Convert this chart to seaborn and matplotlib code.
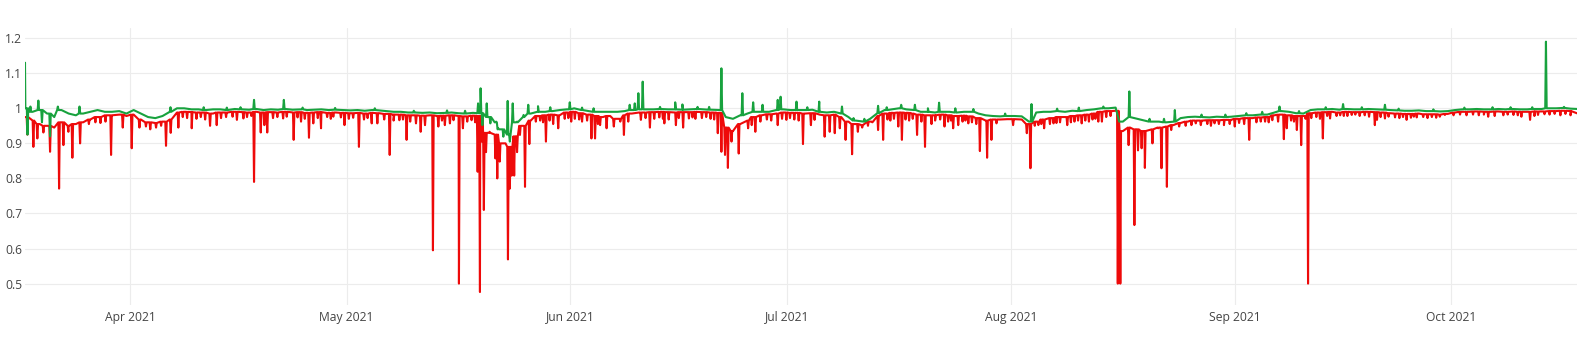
import numpy as np
import pandas as pd
import seaborn as sns
import matplotlib.pyplot as plt
import matplotlib.dates as mdates

start = pd.Timestamp('2021-03-17')

# daily values (noon), 2021-03-17 .. 2021-10-18
high_daily = [
    1.000, 0.990, 0.995, 0.985, 0.975, 0.995, 0.985, 0.980, 0.985, 0.990,
    0.995, 0.990, 0.990, 0.992, 0.985, 0.995, 0.985, 0.975, 0.972, 0.978,
    0.990, 1.000, 1.000, 0.997, 0.997, 0.995, 0.997, 0.997, 0.995, 0.998,
    0.997, 0.996, 0.998, 0.995, 0.997, 0.996, 0.998, 0.996, 0.997, 0.995,
    0.996, 0.997, 0.995, 0.996, 0.995, 0.994, 0.995, 0.993, 0.995, 0.994,
    0.992, 0.990, 0.990, 0.988, 0.988, 0.987, 0.988, 0.986, 0.987, 0.988,
    0.986, 0.985, 0.987, 0.986, 0.975, 0.960, 0.940, 0.925, 0.960, 0.975,
    0.985, 0.990, 0.990, 0.992, 0.995, 0.997, 1.000, 0.995, 0.992, 0.990,
    0.990, 0.990, 0.990, 0.992, 0.995, 0.997, 0.997, 0.997, 0.998, 0.997,
    0.997, 0.996, 0.997, 0.998, 0.997, 0.996, 0.995, 0.975, 0.970, 0.980,
    0.985, 0.990, 0.990, 0.990, 0.995, 0.997, 0.995, 0.995, 0.995, 0.996,
    0.990, 0.988, 0.990, 0.985, 0.975, 0.965, 0.962, 0.970, 0.986, 0.995,
    0.997, 1.000, 0.997, 0.995, 0.990, 0.990, 0.988, 0.990, 0.990, 0.988,
    0.990, 0.990, 0.985, 0.980, 0.978, 0.977, 0.978, 0.978, 0.977, 0.962,
    0.988, 0.990, 0.990, 0.992, 0.990, 0.993, 0.992, 0.995, 0.997, 1.000,
    1.000, 1.002, 0.962, 0.975, 0.970, 0.965, 0.962, 0.962, 0.960, 0.962,
    0.972, 0.975, 0.976, 0.975, 0.974, 0.976, 0.975, 0.976, 0.978, 0.980,
    0.980, 0.982, 0.982, 0.988, 0.992, 0.990, 0.986, 0.985, 0.995, 0.997,
    0.997, 0.998, 0.996, 0.998, 0.997, 0.997, 0.998, 0.997, 0.996, 0.995,
    0.994, 0.993, 0.993, 0.994, 0.992, 0.992, 0.991, 0.992, 0.995, 0.997,
    0.997, 0.998, 0.997, 0.997, 0.998, 0.997, 0.998, 0.997, 0.997, 0.998,
    0.998, 1.000, 1.000, 1.001, 0.999, 0.998,
]
low_daily = [
    0.975, 0.965, 0.955, 0.950, 0.945, 0.960, 0.950, 0.955, 0.960, 0.968,
    0.975, 0.980, 0.980, 0.982, 0.978, 0.982, 0.968, 0.960, 0.958, 0.962,
    0.968, 0.988, 0.990, 0.989, 0.988, 0.988, 0.985, 0.988, 0.988, 0.990,
    0.989, 0.988, 0.990, 0.988, 0.989, 0.988, 0.990, 0.988, 0.989, 0.987,
    0.988, 0.989, 0.987, 0.988, 0.987, 0.986, 0.987, 0.985, 0.987, 0.986,
    0.984, 0.982, 0.982, 0.980, 0.980, 0.979, 0.980, 0.978, 0.979, 0.980,
    0.978, 0.977, 0.979, 0.978, 0.930, 0.925, 0.900, 0.890, 0.920, 0.950,
    0.965, 0.978, 0.980, 0.982, 0.980, 0.988, 0.990, 0.986, 0.982, 0.978,
    0.975, 0.978, 0.970, 0.980, 0.985, 0.988, 0.988, 0.989, 0.990, 0.989,
    0.988, 0.989, 0.989, 0.990, 0.989, 0.988, 0.987, 0.945, 0.935, 0.955,
    0.965, 0.975, 0.980, 0.983, 0.985, 0.988, 0.987, 0.987, 0.985, 0.986,
    0.982, 0.980, 0.982, 0.975, 0.962, 0.955, 0.952, 0.962, 0.978, 0.985,
    0.987, 0.988, 0.987, 0.985, 0.982, 0.980, 0.980, 0.982, 0.980, 0.978,
    0.979, 0.977, 0.972, 0.965, 0.968, 0.968, 0.969, 0.969, 0.968, 0.955,
    0.962, 0.968, 0.972, 0.975, 0.975, 0.978, 0.980, 0.982, 0.985, 0.990,
    0.992, 0.993, 0.935, 0.945, 0.940, 0.935, 0.940, 0.945, 0.948, 0.952,
    0.958, 0.962, 0.965, 0.965, 0.966, 0.966, 0.967, 0.967, 0.970, 0.972,
    0.972, 0.974, 0.975, 0.980, 0.982, 0.980, 0.978, 0.978, 0.986, 0.988,
    0.989, 0.990, 0.988, 0.990, 0.989, 0.989, 0.990, 0.989, 0.988, 0.986,
    0.985, 0.984, 0.984, 0.985, 0.983, 0.983, 0.982, 0.984, 0.988, 0.990,
    0.990, 0.991, 0.990, 0.990, 0.991, 0.990, 0.991, 0.990, 0.990, 0.991,
    0.991, 0.992, 0.992, 0.993, 0.992, 0.985,
]

# short-lived spikes / dips, time in days after 2021-03-17
high_spike_t = [0.45, 0.8, 1.2, 2.3, 2.8, 3.92, 5.0, 8.0, 20.6, 25.2, 28.4,
                30.3, 32.17, 36.3, 38.9, 43.4, 48.9, 54.3, 58.9, 61.4,
                63.2, 63.55, 63.8, 64.4, 64.9, 65.7, 66.0, 66.7, 67.3, 67.6,
                68.0, 68.6, 69.5, 70.15, 71.5, 73.2, 75.9, 77.6, 79.2, 84.2,
                84.9, 85.4, 86.0, 88.4, 90.5, 91.5, 93.6, 95.2, 96.9, 99.8,
                101.3, 102.6, 104.7, 105.1, 107.3, 108.8, 110.45, 113.6,
                115.2, 116.7, 118.6, 119.8, 121.8, 123.7, 125.5, 127.05,
                129.3, 131.8, 136.2, 139.85, 143.4, 146.4, 149.8, 152.1,
                153.4, 156.2, 158.2, 159.7, 163.4, 166.7, 169.6, 171.8,
                174.2, 176.9, 180.6, 183.0, 185.6, 188.8, 190.7, 195.5,
                199.8, 203.7, 206.2, 209.2, 211.1, 213.6]
high_spike_v = [1.13, 0.925, 1.005, 1.022, 0.96, 0.92, 1.005, 1.005, 1.003,
                1.003, 1.002, 1.003, 1.024, 1.024, 1.002, 1.001, 1.000, 0.993,
                0.994, 0.993, 1.014, 1.057, 0.952, 1.014, 0.957, 0.962, 0.943,
                0.919, 1.021, 0.905, 1.014, 0.962, 0.981, 1.010, 1.006, 1.003,
                1.017, 1.002, 1.000, 1.010, 1.014, 1.043, 1.076, 1.004, 1.017,
                1.011, 1.004, 1.004, 1.114, 1.043, 1.017, 1.010, 1.024, 1.033,
                1.019, 1.003, 1.019, 1.005, 0.972, 0.970, 1.007, 1.003, 1.010,
                1.010, 1.000, 1.016, 1.000, 0.998, 0.985, 1.012, 0.999, 1.002,
                1.005, 0.962, 1.048, 0.970, 0.970, 0.995, 0.982, 0.982, 0.986,
                0.990, 1.005, 0.992, 1.003, 1.012, 1.003, 1.010, 0.999, 0.997,
                1.002, 1.003, 1.003, 1.003, 1.19, 1.004]

low_dip_t = [0.78, 1.61, 2.16, 3.0, 3.92, 5.17, 5.77, 6.46, 7.01, 8.08,
             9.3, 10.2, 10.9, 11.6, 12.37, 13.99, 15.23, 16.3, 17.2, 17.8,
             18.6, 19.3, 19.98, 20.63, 21.69, 22.3, 22.9, 23.54, 24.2, 24.8,
             25.4, 26.08, 27.0, 27.6, 28.3, 29.2, 29.8, 30.7, 31.2, 31.8,
             32.17, 33.1, 33.6, 34.0, 34.8, 35.4, 36.2, 36.7, 37.66, 38.2,
             38.68, 39.2, 39.78, 40.38, 41.0, 41.45, 42.3, 42.8, 43.15, 44.2,
             44.7, 45.3, 45.9, 46.7, 47.4, 47.9, 48.47, 49.25, 50.2, 50.96,
             51.5, 52.3, 52.8, 53.3, 53.8, 54.6, 55.25, 55.85, 56.95, 57.7,
             58.2, 58.6, 59.3, 59.8, 60.55, 61.1, 61.7, 62.3, 62.8, 63.14,
             63.46, 63.7, 64.0, 64.3, 64.8, 65.6, 65.86, 66.2, 66.9, 67.34,
             67.6, 67.85, 68.2, 68.6, 69.0, 69.7, 70.3, 71.2, 71.8, 72.2,
             72.6, 73.1, 73.6, 74.3, 75.2, 75.7, 76.1, 76.6, 77.2, 77.6,
             78.3, 78.9, 79.4, 79.8, 80.1, 81.0, 82.0, 82.9, 83.4, 84.0,
             85.75, 86.4, 87.0, 87.6, 88.3, 88.8, 89.0, 89.6, 90.6, 91.0,
             91.6, 92.4, 92.9, 93.3, 94.2, 94.8, 95.4, 95.9, 96.4, 96.9,
             97.4, 97.8, 98.3, 99.3, 100.6, 101.1, 101.6, 102.3, 103.2,
             103.8, 104.7, 105.3, 105.9, 106.4, 107.0, 107.6, 108.2, 109.3,
             109.8, 111.2, 111.9, 112.6, 113.3, 114.1, 115.0, 115.8, 116.4,
             117.2, 117.8, 118.6, 119.3, 119.9, 120.3, 120.8, 121.4, 121.9,
             122.4, 122.9, 123.4, 124.0, 124.6, 125.1, 126.0, 126.5, 127.2,
             127.8, 128.3, 128.7, 129.0, 129.7, 130.3, 130.7, 131.1, 131.6,
             132.2, 132.7, 133.7, 134.3, 135.0, 137.3, 139.2, 139.7, 140.3,
             140.8, 141.2, 141.6, 142.4, 142.9, 143.3, 143.8, 144.8, 145.3,
             145.8, 146.3, 146.8, 147.3, 147.8, 148.3, 148.7, 149.1, 149.6,
             150.2, 150.8, 151.8, 152.15, 153.3, 154.1, 154.6, 155.1, 155.55,
             156.6, 157.4, 157.85, 158.6, 159.2, 160.3, 161.2, 162.0, 162.6,
             163.3, 164.2, 164.7, 165.2, 165.8, 166.5, 167.3, 168.0, 168.6,
             169.3, 170.0, 171.0, 171.6, 172.2, 172.7, 173.2, 174.0, 174.8,
             175.2, 175.8, 176.2, 176.6, 177.2, 177.8, 178.15, 178.6, 179.3,
             179.8, 180.2, 180.8, 181.2, 182.1, 182.6, 183.1, 183.6, 184.2,
             184.7, 185.3, 186.0, 186.6, 187.4, 187.7, 188.2, 188.8, 189.3,
             190.2, 190.8, 191.3, 191.8, 192.4, 192.8, 193.2, 194.1, 194.7,
             195.3, 195.9, 196.4, 197.1, 198.3, 199.2, 200.1, 201.0, 201.8,
             202.5, 203.1, 204.0, 205.2, 205.8, 206.6, 207.2, 207.7, 208.9,
             209.5, 210.0, 210.9, 211.6, 212.3, 213.1, 213.8, 214.5]
low_dip_v = [0.925, 0.890, 0.914, 0.931, 0.876, 0.771, 0.895, 0.933, 0.859,
             0.900, 0.955, 0.960, 0.958, 0.962, 0.867, 0.945, 0.886, 0.945,
             0.948, 0.940, 0.945, 0.950, 0.893, 0.930, 0.945, 0.975, 0.972,
             0.943, 0.970, 0.975, 0.968, 0.950, 0.952, 0.972, 0.975, 0.976,
             0.967, 0.971, 0.975, 0.978, 0.790, 0.931, 0.952, 0.931, 0.972,
             0.975, 0.971, 0.976, 0.910, 0.974, 0.962, 0.970, 0.916, 0.957,
             0.972, 0.943, 0.975, 0.970, 0.976, 0.974, 0.952, 0.970, 0.973,
             0.890, 0.968, 0.972, 0.957, 0.957, 0.968, 0.867, 0.965, 0.966,
             0.968, 0.910, 0.962, 0.957, 0.933, 0.952, 0.595, 0.948, 0.965,
             0.952, 0.957, 0.966, 0.500, 0.943, 0.962, 0.966, 0.960, 0.819,
             0.476, 0.905, 0.710, 0.875, 0.933, 0.857, 0.800, 0.848, 0.900,
             0.569, 0.771, 0.808, 0.808, 0.875, 0.924, 0.776, 0.898, 0.962,
             0.965, 0.960, 0.905, 0.965, 0.955, 0.943, 0.970, 0.972, 0.962,
             0.970, 0.968, 0.962, 0.965, 0.914, 0.914, 0.955, 0.952, 0.943,
             0.948, 0.962, 0.924, 0.962, 0.967, 0.972, 0.945, 0.970, 0.974,
             0.970, 0.957, 0.968, 0.952, 0.972, 0.945, 0.971, 0.974, 0.970,
             0.972, 0.975, 0.970, 0.968, 0.929, 0.876, 0.867, 0.830, 0.905,
             0.871, 0.943, 0.952, 0.933, 0.962, 0.968, 0.965, 0.952, 0.970,
             0.967, 0.972, 0.968, 0.965, 0.898, 0.952, 0.967, 0.919, 0.933,
             0.929, 0.943, 0.910, 0.869, 0.933, 0.945, 0.950, 0.960, 0.938,
             0.910, 0.968, 0.965, 0.970, 0.948, 0.910, 0.968, 0.965, 0.970,
             0.924, 0.962, 0.890, 0.955, 0.965, 0.968, 0.948, 0.962, 0.965,
             0.943, 0.952, 0.962, 0.965, 0.957, 0.960, 0.955, 0.878, 0.859,
             0.910, 0.957, 0.952, 0.929, 0.829, 0.950, 0.952, 0.955, 0.943,
             0.955, 0.957, 0.958, 0.960, 0.952, 0.960, 0.962, 0.965, 0.957,
             0.965, 0.962, 0.968, 0.970, 0.962, 0.962, 0.975, 0.978, 0.500,
             0.500, 0.895, 0.667, 0.880, 0.886, 0.830, 0.900, 0.943, 0.829,
             0.776, 0.938, 0.948, 0.950, 0.952, 0.957, 0.952, 0.955, 0.950,
             0.957, 0.955, 0.952, 0.955, 0.948, 0.958, 0.955, 0.910, 0.960,
             0.962, 0.962, 0.960, 0.966, 0.962, 0.912, 0.943, 0.965, 0.962,
             0.938, 0.895, 0.970, 0.500, 0.972, 0.975, 0.970, 0.914, 0.978,
             0.971, 0.978, 0.980, 0.978, 0.978, 0.981, 0.982, 0.978, 0.980,
             0.976, 0.952, 0.967, 0.975, 0.971, 0.976, 0.974, 0.972, 0.975,
             0.967, 0.973, 0.976, 0.974, 0.975, 0.972, 0.975, 0.973, 0.976,
             0.981, 0.980, 0.982, 0.980, 0.982, 0.980, 0.982, 0.976, 0.978,
             0.980, 0.982, 0.981, 0.980, 0.976, 0.967, 0.978, 0.981, 0.983,
             0.982, 0.984, 0.980, 0.984, 0.980]

y_ticks = [0.5, 0.6, 0.7, 0.8, 0.9, 1.0, 1.1, 1.2]
y_labels = ['0.5', '0.6', '0.7', '0.8', '0.9', '1', '1.1', '1.2']


def build(daily, ev_t, ev_v, half=0.1):
    # daily points plus narrow spikes that leave and rejoin the day's level
    t = list(np.arange(len(daily)) + 0.5)
    v = list(daily)
    for te, ve in zip(ev_t, ev_v):
        b = daily[min(int(te), len(daily) - 1)]
        t += [te - half, te, te + half]
        v += [b, ve, b]
    df = pd.DataFrame({'t': t, 'value': v}).sort_values('t', kind='stable')
    df['time'] = start + pd.to_timedelta(df['t'], unit='D')
    return df


low = build(low_daily, low_dip_t, low_dip_v)
high = build(high_daily, high_spike_t, high_spike_v)

sns.set_style('white')
plt.rcParams['font.family'] = ['Open Sans', 'DejaVu Sans']

fig = plt.figure(figsize=(15.84, 3.45), dpi=100)
ax = fig.add_axes([25 / 1584, 40 / 345, 1552 / 1584, 277 / 345])

sns.lineplot(data=low, x='time', y='value', color='#ee0a0a', lw=1.5,
             estimator=None, sort=False, ax=ax)
sns.lineplot(data=high, x='time', y='value', color='#18a23e', lw=1.5,
             estimator=None, sort=False, ax=ax)

ax.set_xlim(start + pd.Timedelta(days=0.45), start + pd.Timedelta(days=215.4))
ax.set_ylim(0.439, 1.229)
ax.set_yticks(y_ticks)
ax.set_yticklabels(y_labels)
ax.xaxis.set_major_locator(mdates.MonthLocator())
ax.xaxis.set_major_formatter(mdates.DateFormatter('%b %Y'))

ax.grid(True, color='#ececec', lw=0.8)
ax.set_axisbelow(True)
for s in ax.spines.values():
    s.set_visible(False)
ax.tick_params(length=0, labelsize=8.7, labelcolor='#444444')
ax.tick_params(axis='y', pad=2)
ax.tick_params(axis='x', pad=4)
ax.set_xlabel('')
ax.set_ylabel('')

fig.savefig('out.png', dpi=100)
